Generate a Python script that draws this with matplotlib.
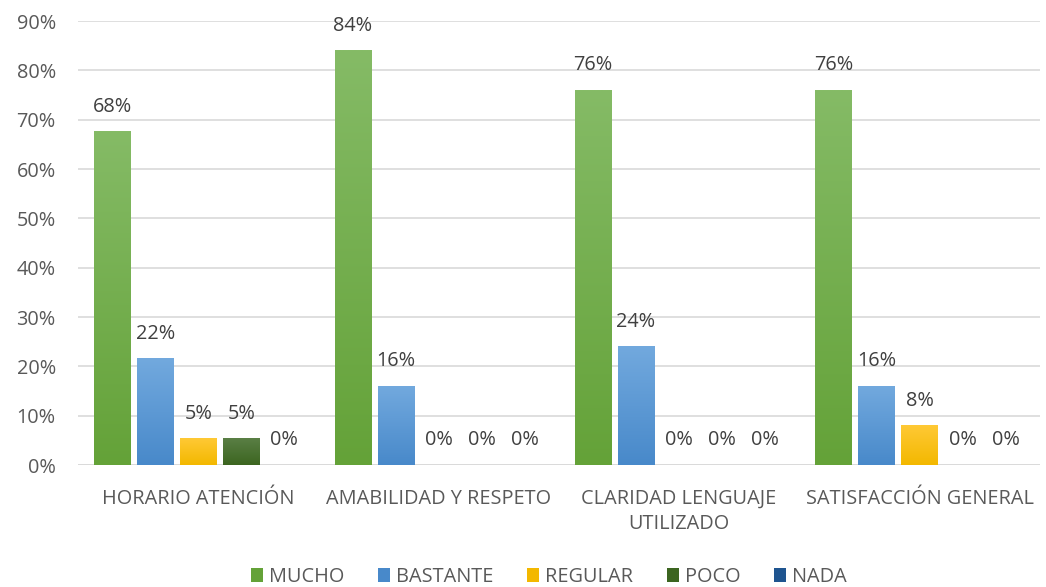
import numpy as np
import matplotlib.pyplot as plt
from matplotlib.colors import LinearSegmentedColormap
from matplotlib.patches import Patch

categorias = ['HORARIO ATENCIÓN', 'AMABILIDAD Y RESPETO',
              'CLARIDAD LENGUAJE\nUTILIZADO', 'SATISFACCIÓN GENERAL']
series = ['MUCHO', 'BASTANTE', 'REGULAR', 'POCO', 'NADA']

mucho = [67.6, 84.0, 76.0, 76.0]
bastante = [21.6, 16.0, 24.0, 16.0]
regular = [5.4, 0.0, 0.0, 8.0]
poco = [5.4, 0.0, 0.0, 0.0]
nada = [0.0, 0.0, 0.0, 0.0]
etiquetas = [
    ['68%', '84%', '76%', '76%'],
    ['22%', '16%', '24%', '16%'],
    ['5%', '0%', '0%', '8%'],
    ['5%', '0%', '0%', '0%'],
    ['0%', '0%', '0%', '0%'],
]

# (arriba, abajo) para el degradado
colores = [('#85bb66', '#64a238'),
           ('#72a9de', '#4889ca'),
           ('#ffc935', '#f3b800'),
           ('#5a7f45', '#3c6520'),
           ('#3a6ea5', '#1f5590')]

plt.rcParams['font.family'] = ['Open Sans', 'DejaVu Sans']
texto = '#595959'
fs = 14.3

fig = plt.figure(figsize=(10.46, 5.87), dpi=100)
ax = fig.add_axes([0.0746, 0.2078, 0.9194, 0.7564])

valores = [mucho, bastante, regular, poco, nada]
x = np.arange(len(categorias))
paso = 0.179
ancho = 0.15

for i, (vals, (c1, c2)) in enumerate(zip(valores, colores)):
    pos = x + (i - 2) * paso
    barras = ax.bar(pos, vals, width=ancho, color=c2, zorder=2, label=series[i])
    cmap = LinearSegmentedColormap.from_list('g%d' % i, [c2, c1])
    grad = np.linspace(0, 1, 256).reshape(-1, 1)
    for b, v, lab in zip(barras, vals, etiquetas[i]):
        if v > 0:
            ax.imshow(grad, cmap=cmap, origin='lower', aspect='auto', zorder=3,
                      extent=[b.get_x(), b.get_x() + b.get_width(), 0, v])
        ax.text(b.get_x() + b.get_width() / 2, v + 3.0, lab, ha='center',
                va='bottom', fontsize=fs, color='#404040')

ax.set_xlim(-0.5, 3.5)
ax.set_ylim(0, 90)
ax.set_yticks(np.arange(0, 91, 10))
ax.set_yticklabels([f'{t}%' for t in range(0, 91, 10)], fontsize=fs, color=texto)
ax.set_xticks(x)
ax.set_xticklabels(categorias, fontsize=fs, color=texto, linespacing=1.35)
ax.tick_params(axis='both', length=0)
ax.tick_params(axis='x', pad=17)
ax.tick_params(axis='y', pad=16)
ax.grid(axis='y', color='#d9d9d9', linewidth=1.2, zorder=0)
ax.set_axisbelow(True)
for s in ax.spines.values():
    s.set_visible(False)
ax.axhline(0, color='#d9d9d9', linewidth=1.2, zorder=1)

handles = [Patch(facecolor=c[1], label=s) for s, c in zip(series, colores)]
fig.legend(handles=handles, loc='lower center', ncol=5, frameon=False,
           bbox_to_anchor=(0.525, -0.03), fontsize=fs, handlelength=0.6,
           handleheight=0.7, handletextpad=0.3, columnspacing=1.7,
           labelcolor=texto)

fig.savefig('out.png', dpi=100)
